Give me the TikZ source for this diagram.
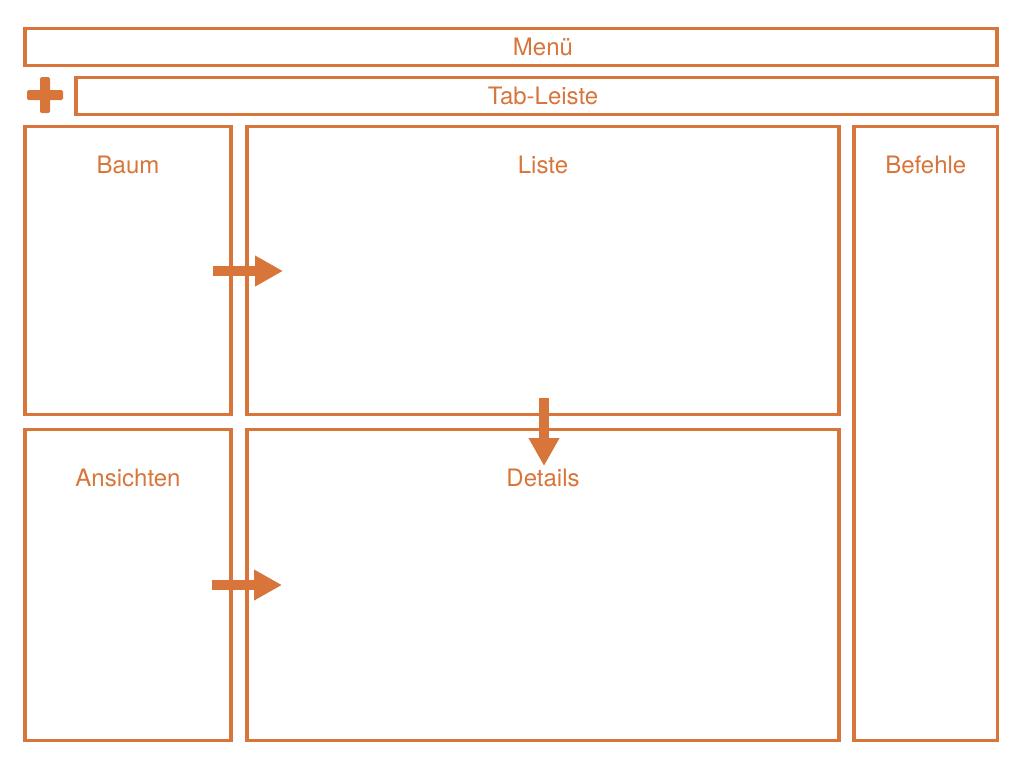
\documentclass[tikz,border=0pt]{standalone}
\usepackage{fontspec}
\setmainfont{TeX Gyre Heros}
\usepackage{tikz}
\usetikzlibrary{positioning, calc}
\usetikzlibrary{arrows.meta}
\definecolor{paneorange}{RGB}{215,117,58}

\begin{document}
\begin{tikzpicture}[x=1pt, y=-1pt, draw=paneorange, text=paneorange]
	\fontsize{24}{28}\selectfont
	\def \lw{3.4pt}
	\tikzstyle{p-box}=[draw, line width=\lw, inner sep=0pt, outer sep=0pt, anchor=north west]
	\tikzstyle{p-label}=[inner sep=0pt, anchor=base]
	\tikzstyle{p-arrow}=[line width=10pt, -{Triangle[length=28pt, width=29pt]}, paneorange]
	\useasboundingbox (0,0) rectangle (1016,763);
	% top bars
	\node[p-box, minimum width=972pt, minimum height=37pt] 	(menu)	at (25,28.5)	{};
	\node[p-box, minimum width=921pt, minimum height=37pt] 	(tabs)	at (76,77.7)	{};
	% panes
	\node[p-box, minimum width=206pt, minimum height=288pt] 	(baum)	at (25,126.7)	{};
	\node[p-box, minimum width=592pt, minimum height=288pt] 	(liste)	at (247,126.7)	{};
	\node[p-box, minimum width=143.5pt, minimum height=613.6pt] 	(befehle)	at (854,126.7)	{};
	\node[p-box, minimum width=206pt, minimum height=311pt] 	(ansichten)	at (25,429.3)	{};
	\node[p-box, minimum width=592pt, minimum height=311pt] 	(details)	at (247,429.3)	{};
	% labels (top bars centred over the list column)
	\node[p-label] 	(menu-l)	at ($(liste.north|-menu.center)+(0,8.5)$)	{Menü};
	\node[p-label] 	(tabs-l)	at ($(liste.north|-tabs.center)+(0,8.5)$)	{Tab-Leiste};
	\node[p-label] 	(baum-l)	at ($(baum.north)+(0,47)$)	{Baum};
	\node[p-label] 	(liste-l)	at ($(liste.north)+(0,47)$)	{Liste};
	\node[p-label] 	(befehle-l)	at ($(befehle.north)+(0,47)$)	{Befehle};
	\node[p-label] 	(ansichten-l)	at ($(ansichten.north)+(0,57.5)$)	{Ansichten};
	\node[p-label] 	(details-l)	at ($(details.north)+(0,57.5)$)	{Details};
	% plus
	\coordinate (plus) at (45,95);
	\fill[paneorange, rounded corners=1.5pt] ($(plus)+(-18,-5)$) rectangle ($(plus)+(18,5)$);
	\fill[paneorange, rounded corners=1.5pt] ($(plus)+(-5,-18)$) rectangle ($(plus)+(5,18)$);
	% arrows
	\coordinate (a1s) at (213,271);
	\coordinate (a1e) at (283,271);
	\coordinate (a2s) at (212,585);
	\coordinate (a2e) at (282,585);
	\coordinate (a3s) at (544,398);
	\coordinate (a3e) at (544,466);
	\draw[p-arrow] (a1s) -- (a1e);
	\draw[p-arrow] (a2s) -- (a2e);
	\draw[p-arrow] (a3s) -- (a3e);
\end{tikzpicture}
\end{document}
